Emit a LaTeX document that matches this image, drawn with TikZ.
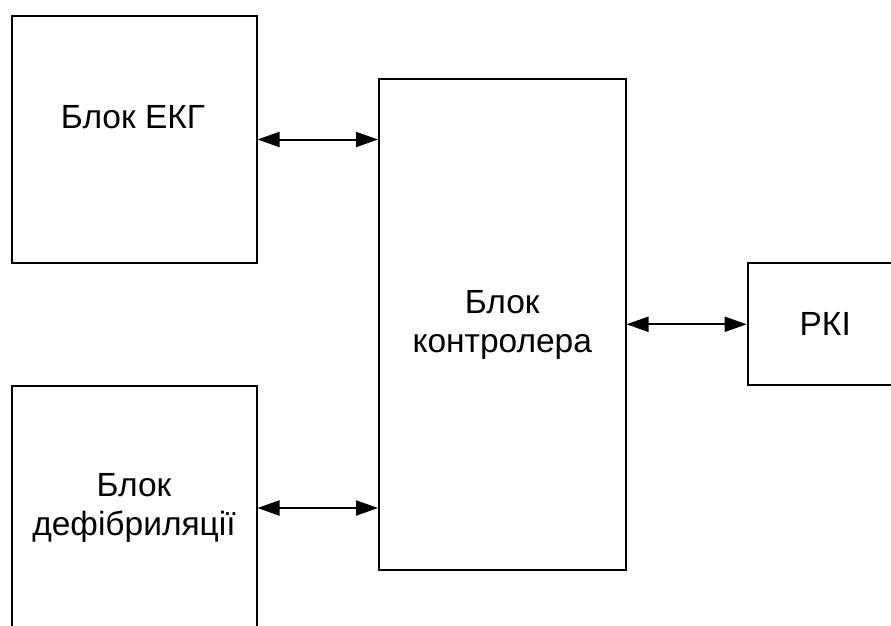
\documentclass[tikz,border=0pt]{standalone}
\usepackage{fontspec}
\setmainfont{Liberation Sans}
\usetikzlibrary{arrows.meta}
\tikzset{
  blockbox/.style={draw=black, line width=2pt, fill=none, inner sep=0pt, anchor=north west, align=center, font=\fontsize{33.5}{39}\selectfont},
  lbl/.style={inner sep=0pt, font=\fontsize{33.5}{39}\selectfont},
  link/.style={line width=2pt, {Triangle[length=22pt,width=15pt]}-{Triangle[length=22pt,width=15pt]}}
}
\begin{document}
\begin{tikzpicture}[x=1pt,y=-1pt]
\useasboundingbox (0,0) rectangle (891,626);
\clip (0,0) rectangle (891,626);
\node[blockbox, minimum width=245pt, minimum height=246pt] (ekg) at (10.5,15.5) {};
\node[lbl, anchor=base] (ekgt) at (133,128) {Блок ЕКГ};
\node[blockbox, minimum width=246.5pt, minimum height=490.7pt] (ctrl) at (378,78.3) {Блок\\контролера};
\node[blockbox, minimum width=155pt, minimum height=122pt] (rki) at (746.7,262.3) {РКІ};
\node[blockbox, minimum width=245pt, minimum height=244.6pt] (defib) at (10.5,384.7) {Блок\\дефібриляції};
\draw[link] (ekg.east) -- (ctrl.west |- ekg.east);
\draw[link] (ctrl.east |- rki.west) -- (rki.west);
\draw[link] (defib.east) -- (ctrl.west |- defib.east);
\end{tikzpicture}
\end{document}
